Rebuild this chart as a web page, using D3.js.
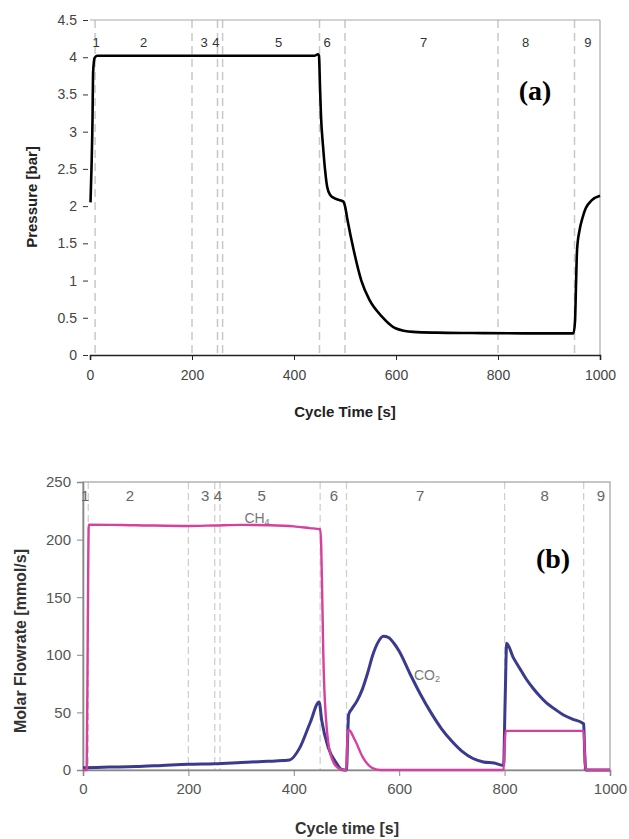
<!DOCTYPE html>
<html>
<head>
<meta charset="utf-8">
<script src="https://cdn.jsdelivr.net/npm/d3@7"></script>
<style>
  body { margin: 0; background: #fff; }
  svg { display: block; }
</style>
</head>
<body>
<svg id="chart" width="629" height="839"></svg>
<script>
// ---------- DATA ----------
const phaseBounds = [10, 200, 250, 260, 450, 500, 800, 950];
const phaseNames = ["1", "2", "3", "4", "5", "6", "7", "8", "9"];
const phaseLabelTimeA = [12, 105, 224, 247, 370, 465, 654, 854, 976];
const phaseLabelTimeB = [4, 89, 232, 256, 339, 476, 640, 876, 983];

const xTicks = [0, 200, 400, 600, 800, 1000];
const pTicks = [0, 0.5, 1, 1.5, 2, 2.5, 3, 3.5, 4, 4.5];
const fTicks = [0, 50, 100, 150, 200, 250];

// Panel (a): pressure [bar] vs cycle time [s]
const pressureTime = [1, 3, 5, 6, 9, 14, 100, 200, 300, 400, 440, 447, 449, 451, 453, 457, 461, 465, 471, 481, 497, 500, 505, 517, 532, 548, 572, 599, 634, 680, 750, 850, 948, 951, 953, 955, 960, 966, 972, 984, 1000];
const pressureVal  = [2.05, 2.53, 3.2, 3.78, 3.99, 4.02, 4.02, 4.02, 4.02, 4.02, 4.02, 4.04, 4.02, 3.6, 3.2, 2.8, 2.48, 2.26, 2.15, 2.10, 2.06, 2.0, 1.81, 1.41, 1.0, 0.74, 0.52, 0.36, 0.31, 0.30, 0.295, 0.29, 0.29, 0.45, 0.95, 1.41, 1.68, 1.85, 1.97, 2.08, 2.14];

// Panel (b): molar flowrates [mmol/s]
const ch4Time = [0, 7, 9, 11, 100, 200, 250, 300, 350, 400, 430, 450, 452, 454, 456, 458, 461, 465, 470, 476, 483, 490, 497, 500, 502, 504, 516, 531, 548, 564, 600, 798, 800, 802, 950, 952, 954, 1000];
const ch4Val  = [0, 0, 120, 213, 212.5, 211.8, 212.3, 212.8, 212.5, 211.5, 210, 209, 195, 150, 100, 70, 45, 25, 13, 6, 2, 0.5, 0, 0, 30, 35, 26, 11, 2, 0, 0, 0, 20, 34, 34, 15, 0, 0];

const co2Time = [0, 50, 100, 150, 200, 250, 300, 350, 380, 392, 411, 431, 448, 453, 465, 481, 491, 500, 502, 504, 510, 520, 530, 540, 550, 560, 570, 580, 590, 600, 620, 640, 660, 680, 700, 720, 740, 760, 780, 798, 801, 804, 816, 829, 841, 854, 867, 880, 895, 911, 930, 947, 950, 952, 954, 1000];
const co2Val  = [2, 2.5, 3, 4, 5, 5.5, 6.5, 7.5, 8.2, 8.7, 19, 41, 59, 43, 20, 6, 0.5, 0, 25, 48, 53, 60, 70, 84, 100, 111, 116, 115, 110, 103, 84, 66, 50, 36, 25, 16, 10, 7, 6, 4, 60, 110, 98, 88, 79, 71, 64, 58, 53, 48, 44, 41, 40, 15, 0, 0];

// ---------- DRAW ----------
const svg = d3.select("#chart");
svg.append("rect").attr("width", 629).attr("height", 839).attr("fill", "#fff");

const zip = (ts, vs) => ts.map((t, i) => ({t: t, v: vs[i]}));

// ===== Panel (a) =====
const xa = d3.scaleLinear().domain([0, 1000]).range([90, 600]);
const ya = d3.scaleLinear().domain([0, 4.5]).range([355, 20]);
const ga = svg.append("g");

ga.selectAll("line.phase").data(phaseBounds).join("line")
  .attr("x1", d => xa(d)).attr("x2", d => xa(d))
  .attr("y1", ya(4.5)).attr("y2", ya(0))
  .attr("stroke", "#c8c8c8").attr("stroke-width", 1.5)
  .attr("stroke-dasharray", "8,5");

ga.append("line").attr("x1", xa(0)).attr("x2", xa(1000)).attr("y1", ya(4.5)).attr("y2", ya(4.5))
  .attr("stroke", "#aaa").attr("stroke-width", 1.2);
ga.append("line").attr("x1", xa(1000)).attr("x2", xa(1000)).attr("y1", ya(4.5)).attr("y2", ya(0))
  .attr("stroke", "#aaa").attr("stroke-width", 1.2);

const yAxisA = d3.axisLeft(ya).tickValues(pTicks).tickSize(5).tickPadding(6).tickFormat(d3.format("~g"));
const gya = ga.append("g").attr("transform", `translate(${xa(0) - 2},0)`).call(yAxisA);
gya.select(".domain").remove();
gya.selectAll("line").attr("stroke", "#333");
gya.selectAll("text").attr("font-family", "Liberation Sans, Arial, sans-serif").attr("font-size", 14).attr("fill", "#444");

const xAxisA = d3.axisBottom(xa).tickValues(xTicks).tickSize(5).tickPadding(10).tickFormat(d3.format("d"));
const gxa = ga.append("g").attr("transform", `translate(0,${ya(0)})`).call(xAxisA);
gxa.select(".domain").attr("stroke", "#222").attr("stroke-width", 1.6);
gxa.selectAll("line").attr("stroke", "#222");
gxa.selectAll("text").attr("font-family", "Liberation Sans, Arial, sans-serif").attr("font-size", 14).attr("fill", "#444");

ga.selectAll("text.ph").data(phaseNames).join("text")
  .attr("x", (d, i) => xa(phaseLabelTimeA[i])).attr("y", 47)
  .attr("text-anchor", "middle")
  .attr("font-family", "Liberation Sans, Arial, sans-serif").attr("font-size", 13).attr("fill", "#333")
  .text(d => d);

const lineA = d3.line().x(d => xa(d.t)).y(d => ya(d.v)).curve(d3.curveMonotoneX);
ga.append("path").datum(zip(pressureTime, pressureVal))
  .attr("d", lineA).attr("fill", "none").attr("stroke", "#000").attr("stroke-width", 2.6)
  .attr("stroke-linejoin", "round");

ga.append("text").attr("x", 345).attr("y", 417).attr("text-anchor", "middle")
  .attr("font-family", "Liberation Sans, Arial, sans-serif").attr("font-weight", "bold").attr("font-size", 15)
  .attr("fill", "#222").text("Cycle Time [s]");
ga.append("text").attr("transform", "translate(37,197) rotate(-90)").attr("text-anchor", "middle")
  .attr("font-family", "Liberation Sans, Arial, sans-serif").attr("font-weight", "bold").attr("font-size", 15)
  .attr("fill", "#222").text("Pressure [bar]");
ga.append("text").attr("x", 535).attr("y", 100).attr("text-anchor", "middle")
  .attr("font-family", "Liberation Serif, Times New Roman, serif").attr("font-weight", "bold").attr("font-size", 28)
  .attr("fill", "#000").text("(a)");

// ===== Panel (b) =====
const xb = d3.scaleLinear().domain([0, 1000]).range([83, 610]);
const yb = d3.scaleLinear().domain([0, 250]).range([770, 482]);
const gb = svg.append("g");

gb.selectAll("line.phase").data(phaseBounds).join("line")
  .attr("x1", d => xb(d)).attr("x2", d => xb(d))
  .attr("y1", yb(250)).attr("y2", yb(0))
  .attr("stroke", "#d0d0d0").attr("stroke-width", 1.3)
  .attr("stroke-dasharray", "7,4");

gb.append("rect").attr("x", xb(0)).attr("y", yb(250)).attr("width", xb(1000) - xb(0)).attr("height", yb(0) - yb(250))
  .attr("fill", "none").attr("stroke", "#a8a8a8").attr("stroke-width", 1.3);

const yAxisB = d3.axisLeft(yb).tickValues(fTicks).tickSize(6).tickPadding(6).tickFormat(d3.format("d"));
const gyb = gb.append("g").attr("transform", `translate(${xb(0)},0)`).call(yAxisB);
gyb.select(".domain").attr("stroke", "#888").attr("stroke-width", 1.6);
gyb.selectAll("line").attr("stroke", "#888");
gyb.selectAll("text").attr("font-family", "Liberation Sans, Arial, sans-serif").attr("font-size", 15).attr("fill", "#555");

const xAxisB = d3.axisBottom(xb).tickValues(xTicks).tickSize(6).tickPadding(7).tickFormat(d3.format("d"));
const gxb = gb.append("g").attr("transform", `translate(0,${yb(0)})`).call(xAxisB);
gxb.select(".domain").attr("stroke", "#888").attr("stroke-width", 1.6);
gxb.selectAll("line").attr("stroke", "#888");
gxb.selectAll("text").attr("font-family", "Liberation Sans, Arial, sans-serif").attr("font-size", 15).attr("fill", "#555");

gb.selectAll("text.ph").data(phaseNames).join("text")
  .attr("x", (d, i) => xb(phaseLabelTimeB[i])).attr("y", 501)
  .attr("text-anchor", "middle")
  .attr("font-family", "Liberation Sans, Arial, sans-serif").attr("font-size", 15).attr("fill", "#666")
  .text(d => d);

const lineB = d3.line().x(d => xb(d.t)).y(d => yb(d.v)).curve(d3.curveMonotoneX);
gb.append("path").datum(zip(co2Time, co2Val))
  .attr("d", lineB).attr("fill", "none").attr("stroke", "#3a3a8e").attr("stroke-width", 3)
  .attr("stroke-linejoin", "round");
gb.append("path").datum(zip(ch4Time, ch4Val))
  .attr("d", lineB).attr("fill", "none").attr("stroke", "#d6409f").attr("stroke-width", 2.4)
  .attr("stroke-linejoin", "round");

const ch4Lbl = gb.append("text").attr("x", 257).attr("y", 523).attr("text-anchor", "middle")
  .attr("font-family", "Liberation Sans, Arial, sans-serif").attr("font-size", 14).attr("fill", "#777");
ch4Lbl.append("tspan").text("CH");
ch4Lbl.append("tspan").attr("font-size", 9).attr("dy", 2).text("4");
const co2Lbl = gb.append("text").attr("x", 427).attr("y", 680).attr("text-anchor", "middle")
  .attr("font-family", "Liberation Sans, Arial, sans-serif").attr("font-size", 14).attr("fill", "#777");
co2Lbl.append("tspan").text("CO");
co2Lbl.append("tspan").attr("font-size", 9).attr("dy", 2).text("2");

gb.append("text").attr("x", 347).attr("y", 834).attr("text-anchor", "middle")
  .attr("font-family", "Liberation Sans, Arial, sans-serif").attr("font-weight", "bold").attr("font-size", 16)
  .attr("fill", "#333").text("Cycle time [s]");
gb.append("text").attr("transform", "translate(26,641) rotate(-90)").attr("text-anchor", "middle")
  .attr("font-family", "Liberation Sans, Arial, sans-serif").attr("font-weight", "bold").attr("font-size", 16)
  .attr("fill", "#333").text("Molar Flowrate [mmol/s]");
gb.append("text").attr("x", 553).attr("y", 568).attr("text-anchor", "middle")
  .attr("font-family", "Liberation Serif, Times New Roman, serif").attr("font-weight", "bold").attr("font-size", 28)
  .attr("fill", "#000").text("(b)");
</script>
</body>
</html>
